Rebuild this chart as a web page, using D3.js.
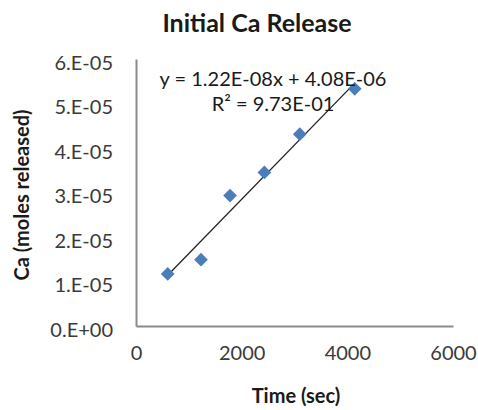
<!DOCTYPE html>
<html>
<head>
<meta charset="utf-8">
<script src="https://cdn.jsdelivr.net/npm/d3@7"></script>
<style>
  body { margin: 0; background: #fff; }
  text { font-family: Lato, "Open Sans", sans-serif; fill: #1a1a1a; }
</style>
</head>
<body>
<div id="chart"></div>
<script>
// readings
const timeSec = [600, 1230, 1780, 2430, 3100, 4140];
const caMoles = [1.17e-5, 1.49e-5, 2.93e-5, 3.45e-5, 4.31e-5, 5.33e-5];
const xTicks = [0, 2000, 4000, 6000];
const yTicks = [0, 1e-5, 2e-5, 3e-5, 4e-5, 5e-5, 6e-5];
const slope = 1.22e-8;
const intercept = 4.08e-6;
const eqLabel = "y = 1.22E-08x + 4.08E-06";
const r2Label = "R² = 9.73E-01";

function makeChart() {
  const width = 478;
  const height = 410;
  const margin = {top: 59, right: 25, bottom: 84, left: 136};

  const svg = d3.select('#chart')
    .append('svg')
    .attr('width', width)
    .attr('height', height);

  const x = d3.scaleLinear().domain([0, 6000]).range([margin.left, width - margin.right]);
  const y = d3.scaleLinear().domain([0, 6e-5]).range([height - margin.bottom, margin.top]);

  // axes, no tick marks, excel-ish gray lines
  const xAxis = d3.axisBottom(x).tickValues(xTicks).tickSize(0).tickPadding(20).tickFormat(d3.format('d'));
  const yAxis = d3.axisLeft(y).tickValues(yTicks).tickSize(0).tickPadding(23)
    .tickFormat(d => d === 0 ? '0.E+00' : (d * 1e5).toFixed(0) + '.E-05');

  svg.append('g')
    .attr('transform', `translate(0,${y(0)})`)
    .call(xAxis)
    .call(g => g.select('.domain').attr('stroke', '#8a8a8a').attr('stroke-width', 2))
    .selectAll('text').style('font-size', '20px').style('fill', '#3a3a3a');

  svg.append('g')
    .attr('transform', `translate(${x(0)},0)`)
    .call(yAxis)
    .call(g => g.select('.domain').attr('stroke', '#8a8a8a').attr('stroke-width', 2))
    .selectAll('text').style('font-size', '20px').style('fill', '#3a3a3a').attr('dy', '0.5em');

  // trendline over the data span
  const x0 = d3.min(timeSec), x1 = d3.max(timeSec);
  svg.append('line')
    .attr('x1', x(x0)).attr('y1', y(slope * x0 + intercept))
    .attr('x2', x(x1)).attr('y2', y(slope * x1 + intercept))
    .attr('stroke', '#222')
    .attr('stroke-width', 1.3);

  svg.selectAll('path.pt')
    .data(timeSec)
    .enter()
    .append('path')
    .attr('class', 'pt')
    .attr('d', d3.symbol().type(d3.symbolDiamond2).size(120))
    .attr('transform', (d, i) => `translate(${x(d)},${y(caMoles[i])})`)
    .attr('fill', '#4a7ebb');

  // equation labels
  svg.append('text')
    .attr('x', 273).attr('y', 86)
    .attr('text-anchor', 'middle')
    .style('font-size', '20px')
    .text(eqLabel);
  svg.append('text')
    .attr('x', 273).attr('y', 111)
    .attr('text-anchor', 'middle')
    .style('font-size', '20px')
    .text(r2Label);

  svg.append('text')
    .attr('x', 257).attr('y', 32)
    .attr('text-anchor', 'middle')
    .style('font-size', '25px')
    .style('font-weight', 'bold')
    .text('Initial Ca Release');

  svg.append('text')
    .attr('x', 296).attr('y', 403)
    .attr('text-anchor', 'middle')
    .style('font-size', '20px')
    .style('font-weight', 'bold')
    .text('Time (sec)');

  svg.append('text')
    .attr('transform', 'translate(29,195) rotate(-90)')
    .attr('text-anchor', 'middle')
    .style('font-size', '20px')
    .style('font-weight', 'bold')
    .text('Ca (moles released)');
}

window.onload = makeChart;
</script>
</body>
</html>
